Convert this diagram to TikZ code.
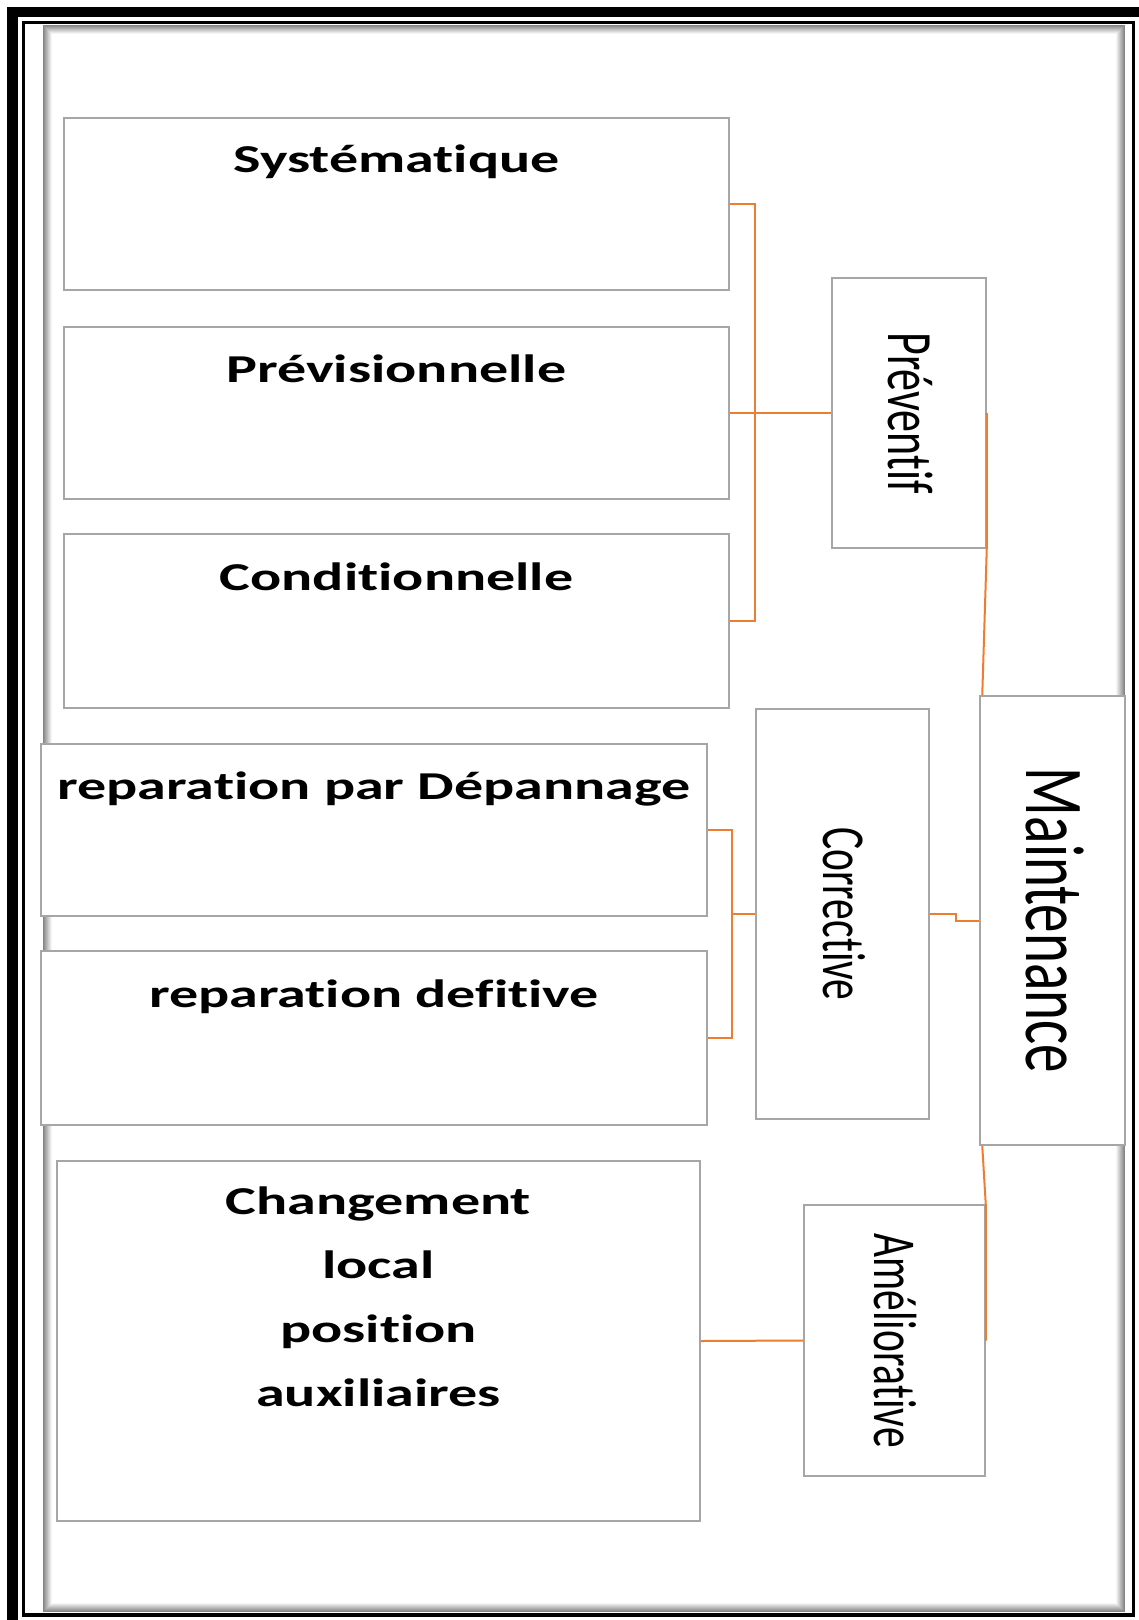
\documentclass[tikz,border=0pt]{standalone}
\usepackage{fontspec}
\setmainfont{Carlito}[Ligatures=NoCommon]
\usepackage{graphicx}
\definecolor{linkorange}{HTML}{ED7D31}
\definecolor{boxgray}{HTML}{A6A6A6}
% widen text horizontally
\newcommand{\wide}[1]{\scalebox{1.47}[1]{#1}}
\tikzset{
  box/.style={draw=boxgray, line width=1.5pt, fill=white, rectangle, inner sep=0pt},
  conn/.style={draw=linkorange, line width=2pt},
  heading/.style={anchor=base, inner sep=0pt, font=\fontsize{39.5}{47}\selectfont\bfseries},
  vlabel/.style={inner sep=0pt, font=\fontsize{41.5}{50}\selectfont},
  biglabel/.style={inner sep=0pt, font=\fontsize{57}{68}\selectfont},
}
\begin{document}
\begin{tikzpicture}[x=1pt,y=-1pt]
\useasboundingbox (0,0) rectangle (1139,1620);
\clip (0,0) rectangle (1139,1620);
\fill[white] (0,0) rectangle (1139,1620);

% page frame
\draw[line width=10.5pt] (12.5,12) rectangle (1170,1650);
\draw[line width=3.2pt] (23.5,22.5) rectangle (1133.5,1615);
% inner page with soft inset shadow
\foreach \i in {0,...,8} {
  \pgfmathtruncatemacro\shade{48-5.5*\i}
  \draw[black!\shade, line width=1pt] (43.5+\i,25.5+\i) rectangle (1124.5-\i,1611.5-\i);
}

% left column boxes
\node[box, minimum width=665pt, minimum height=172pt] (sys)  at (396.5,204) {};
\node[box, minimum width=665pt, minimum height=172pt] (prev) at (396.5,413) {};
\node[box, minimum width=665pt, minimum height=174pt] (cond) at (396.5,621) {};
\node[box, minimum width=666pt, minimum height=172pt] (dep)  at (374,830) {};
\node[box, minimum width=666pt, minimum height=174pt] (def)  at (374,1038) {};
\node[box, minimum width=643pt, minimum height=360pt] (chg)  at (378.5,1341) {};

% category boxes
\node[box, minimum width=154pt, minimum height=270pt] (pvt) at (909,413) {};
\node[box, minimum width=173pt, minimum height=410pt] (cor) at (842.5,914) {};
\node[box, minimum width=145pt, minimum height=449pt] (mnt) at (1052.5,920.5) {};
\node[box, minimum width=181pt, minimum height=271pt] (aml) at (894.5,1340.5) {};

% headings
\node[heading] (sysT)  at ([yshift=-55pt]sys.north)  {\wide{Systématique}};
\node[heading] (prevT) at ([yshift=-56pt]prev.north) {\wide{Prévisionnelle}};
\node[heading] (condT) at ([yshift=-57pt]cond.north) {\wide{Conditionnelle}};
\node[heading] (depT)  at ([yshift=-56pt]dep.north)  {\wide{reparation par Dépannage}};
\node[heading] (defT)  at ([yshift=-57pt]def.north)  {\wide{reparation defitive}};
\node[heading] (chgT)  at ([yshift=-54pt]chg.north)
  {\fontsize{39.5}{64}\selectfont\wide{\begin{tabular}[t]{@{}c@{}}Changement\\local\\position\\auxiliaires\end{tabular}}};

% vertical labels
\node[vlabel, font=\fontsize{44}{52}\selectfont] (pvtT) at ([xshift=2pt]pvt.center) {\wide{\rotatebox{-90}{Préventif}}};
\node[vlabel]   (corT) at ([xshift=2pt]cor.center) {\wide{\rotatebox{-90}{Corrective}}};
\node[biglabel] (mntT) at ([xshift=3pt]mnt.center) {\wide{\rotatebox{-90}{Maintenance}}};
\node[vlabel]   (amlT) at ([xshift=1pt]aml.center) {\wide{\rotatebox{-90}{Améliorative}}};

% connectors
\draw[conn] (sys.east) -- ++(25,0) |- (cond.east);
\draw[conn] (prev.east) -- (pvt.west);
\draw[conn] (pvt.east) -- (pvt.south east) -- ([xshift=3pt]mnt.north west);
\draw[conn] (dep.east) -- ++(24,0) coordinate (cb) |- (def.east);
\draw[conn] (cb |- cor.west) -- (cor.west);
\draw[conn] (cor.east) -- ++(26,0) |- (mnt.west);
\draw[conn] ([xshift=3pt]mnt.south west) -- (aml.north east) -- (aml.east);
\draw[conn] (chg.east) -- (aml.west);
\end{tikzpicture}
\end{document}
